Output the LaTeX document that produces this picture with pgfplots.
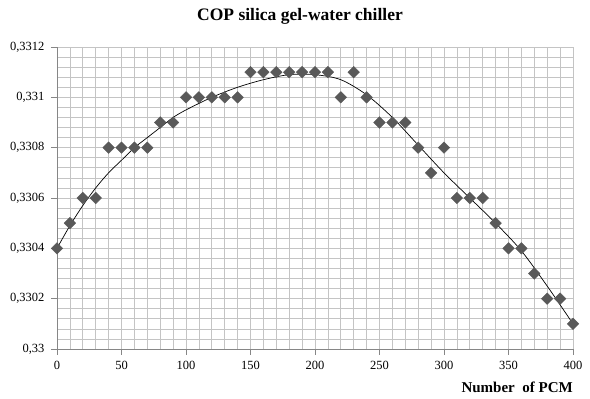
\documentclass[border=0pt]{standalone}
\usepackage{pgfplots}
\pgfplotsset{compat=1.18}
\usepackage{fontspec}
\setmainfont{Liberation Serif}
\definecolor{mk}{HTML}{595959}
\definecolor{gridc}{HTML}{C4C4C4}
\definecolor{axc}{HTML}{868686}
\begin{document}
\begin{tikzpicture}
\begin{axis}[
  name=ax,
  scale only axis, width=516bp, height=302bp,
  xmin=0, xmax=400, ymin=0.33, ymax=0.3312,
  xtick={0,50,...,400},
  ytick={0.33,0.3302,0.3304,0.3306,0.3308,0.331,0.3312},
  minor x tick num=4, minor y tick num=4,
  grid=both,
  major grid style={draw=gridc, line width=0.9pt},
  minor grid style={draw=gridc, line width=0.7pt},
  axis x line*=bottom, axis y line*=left,
  axis line style={draw=axc, line width=0.8pt, -},
  every tick/.style={draw=axc, line width=0.8pt},
  major tick length=6bp, minor tick length=0pt,
  tick align=outside,
  x tick label style={font=\fontsize{12.5bp}{14bp}\selectfont, yshift=-3bp},
  y tick label style={font=\fontsize{12.5bp}{14bp}\selectfont, xshift=-3bp},
  /pgf/number format/assume math mode=true,
  /pgf/number format/use comma,
  /pgf/number format/fixed,
  /pgf/number format/precision=4,
  scaled y ticks=false,
  clip=false,
]
\addplot[black, line width=0.7pt, smooth] coordinates {
(0,0.33040) (10,0.33049) (20,0.33057) (30,0.33064) (40,0.33070)
(50,0.33075) (60,0.33080) (70,0.33084) (80,0.33088) (90,0.33092)
(100,0.33095) (120,0.33100) (140,0.33104)
(160,0.33107) (180,0.331090) (200,0.33109) (220,0.33107) (240,0.33101)
(260,0.33092) (280,0.33081) (300,0.33070) (320,0.33060) (340,0.33050)
(360,0.33039) (380,0.33025) (400,0.33010)
};
\addplot[only marks, mark=square*, mark size=4.1bp,
  mark options={rotate=45, fill=mk, draw=mk}] coordinates {
(0,0.3304) (10,0.3305) (20,0.3306) (30,0.3306) (40,0.3308)
(50,0.3308) (60,0.3308) (70,0.3308) (80,0.3309) (90,0.3309)
(100,0.3310) (110,0.3310) (120,0.3310) (130,0.3310) (140,0.3310)
(150,0.3311) (160,0.3311) (170,0.3311) (180,0.3311) (190,0.3311)
(200,0.3311) (210,0.3311) (220,0.3310) (230,0.3311) (240,0.3310)
(250,0.3309) (260,0.3309) (270,0.3309) (280,0.3308) (290,0.3307)
(300,0.3308) (310,0.3306) (320,0.3306) (330,0.3306) (340,0.3305)
(350,0.3304) (360,0.3304) (370,0.3303) (380,0.3302) (390,0.3302)
(400,0.3301)
};
\end{axis}
\node[font=\bfseries\fontsize{17.5bp}{20bp}\selectfont, anchor=center, inner sep=0pt]
  at ([shift={(243bp,333bp)}]ax.south west) {COP silica gel-water chiller};
\node[font=\bfseries\fontsize{15bp}{17bp}\selectfont, anchor=base east, inner sep=0pt]
  at ([shift={(0bp,-43bp)}]ax.south east) {Number\ \ of PCM};
\pgfresetboundingbox
\path ([shift={(-57bp,-50bp)}]ax.south west) rectangle ([shift={(533bp,349bp)}]ax.south west);
\end{tikzpicture}
\end{document}
